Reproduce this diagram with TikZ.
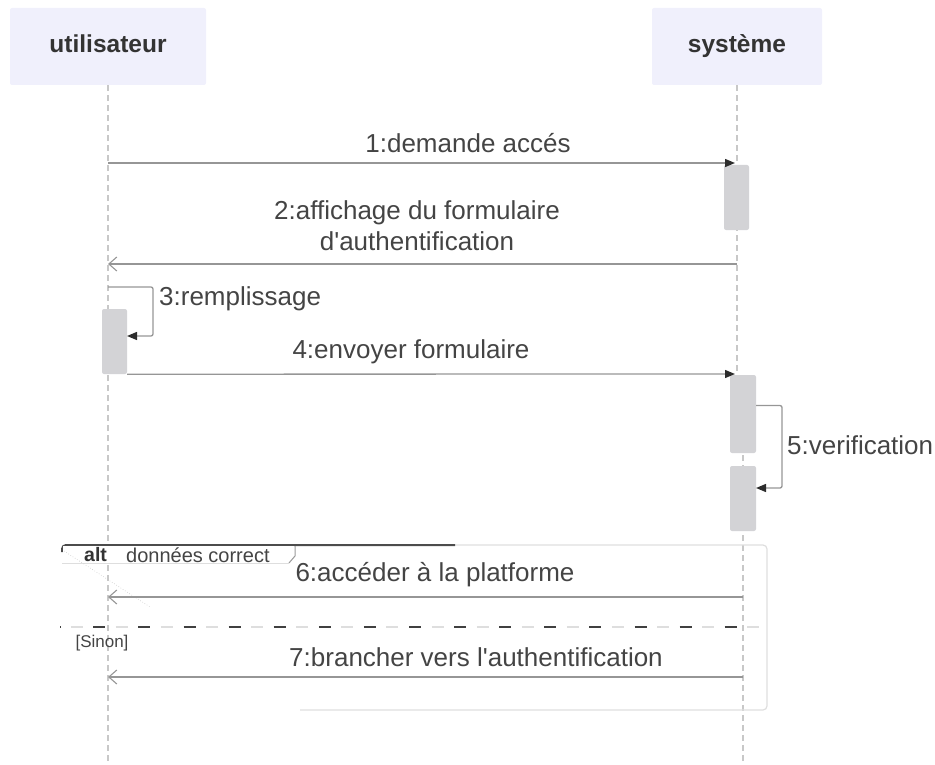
\documentclass[tikz,border=0pt]{standalone}
\usepackage{fontspec}
\setmainfont{Liberation Sans}
\usetikzlibrary{arrows.meta}
\definecolor{hdrfill}{RGB}{240,240,252}
\definecolor{lifegray}{RGB}{200,200,200}
\definecolor{actgray}{RGB}{211,211,214}
\definecolor{msggray}{RGB}{150,150,150}
\definecolor{txtgray}{RGB}{68,68,68}
\definecolor{framegray}{RGB}{222,222,222}
\definecolor{headdark}{RGB}{45,45,45}
\tikzset{
  hdr/.style={fill=hdrfill, rounded corners=2pt, minimum height=77pt, inner sep=0pt,
    text height=18pt, text depth=5pt,
    font=\fontsize{24.5}{28}\selectfont\bfseries, text=black!80},
  lifeline/.style={draw=lifegray, line width=1.6pt, dash pattern=on 6pt off 4pt},
  act/.style={fill=actgray, rounded corners=2pt, minimum width=25pt, inner sep=0pt},
  msglabel/.style={font=\fontsize{26}{31}\selectfont, text=txtgray, align=center, inner sep=0pt},
  sync/.style={draw=msggray, line width=1.3pt, -{Triangle[length=10pt,width=8pt,color=headdark]}},
  selfmsg/.style={draw=msggray, line width=1.3pt, rounded corners=2pt,
    -{Triangle[length=10pt,width=8pt,color=headdark]}},
  reply/.style={draw=msggray, line width=1.1pt, -{Straight Barb[length=8pt,width=14pt]}},
}
\begin{document}
\begin{tikzpicture}[x=1pt, y=-1pt]
\useasboundingbox (0,0) rectangle (935,765);

% participants
\node[hdr, minimum width=196pt] (hU) at (108,46.5) {utilisateur};
\node[hdr, minimum width=170pt] (hS) at (737,46.5) {système};

% lifelines
\coordinate (uEnd) at (108,765);
\coordinate (sMid) at (737,375);
\coordinate (sLow) at (743,375);
\coordinate (sEnd) at (743,765);
\draw[lifeline] (hU.south) -- (uEnd);
\draw[lifeline] (hS.south) -- (sMid);
\draw[lifeline] (sLow) -- (sEnd);

% activation bars
\node[act, minimum height=65pt] (a1) at (736.5,197.5) {};
\node[act, minimum height=65pt] (aU) at (114.5,341.5) {};
\node[act, minimum width=26pt, minimum height=78pt] (a2) at (743,414) {};
\node[act, minimum width=26pt, minimum height=65pt] (a3) at (743,498.5) {};

% 1
\coordinate (m1a) at (108,163);
\coordinate (m1b) at (735,163);
\draw[sync] (m1a) -- (m1b);
\node[msglabel] (t1) at (468,143) {1:demande accés};

% 2
\coordinate (m2a) at (737,264);
\coordinate (m2b) at (108,264);
\draw[reply] (m2a) -- (m2b);
\node[msglabel] (t2) at (417,226) {2:affichage du formulaire\\d\textquotesingle authentification};

% 3
\coordinate (m3a) at (108,287);
\coordinate (m3b) at (153,287);
\coordinate (m3c) at (153,336);
\coordinate (m3d) at (127,336);
\draw[selfmsg] (m3a) -- (m3b) -- (m3c) -- (m3d);
\node[msglabel, anchor=west] (t3) at (159,299) {3:remplissage};

% 4
\coordinate (m4b) at (735,374);
\draw[sync] (aU.south east) -- (m4b);
\node[msglabel] (t4) at (411,352) {4:envoyer formulaire};

% 5
\coordinate (m5a) at (756,405.5);
\coordinate (m5b) at (782,405.5);
\coordinate (m5c) at (782,488);
\coordinate (m5d) at (756,488);
\draw[selfmsg] (m5a) -- (m5b) -- (m5c) -- (m5d);
\node[msglabel, anchor=west] (t5) at (787,445) {5:verification};

% alt frame
\draw[framegray, line width=1.2pt, rounded corners=4pt] (455,545) -- (767,545) -- (767,710) -- (300,710);
\draw[black!70, line width=2pt, rounded corners=4pt] (62,552) -- (62,545) -- (455,545);
\fill[white] (63,546) rectangle (294,562);
\draw[gray!80, line width=1pt] (295,546) -- (295,556) -- (289,563);
\draw[framegray, line width=1pt] (62,563) -- (289,563);
\draw[gray!45, dotted, line width=0.6pt] (64,551) -- (150,607);
\node[anchor=west, inner sep=0pt, font=\fontsize{19.5}{22}\selectfont\bfseries, text=black!80] (altk) at (84,555) {alt};
\node[anchor=west, inner sep=0pt, font=\fontsize{20}{23}\selectfont, text=txtgray] (altg) at (126,555) {données correct};

% 6
\coordinate (m6a) at (743,597);
\coordinate (m6b) at (108,597);
\draw[reply] (m6a) -- (m6b);
\node[msglabel] (t6) at (435,575) {6:accéder à la platforme};

% separator
\coordinate (sepL) at (60,627);
\coordinate (sepR) at (767,627);
\draw[framegray, line width=1.5pt, dash pattern=on 12pt off 33.1pt, dash phase=34.35pt] (sepL) -- (sepR);
\draw[black!75, line width=1.5pt, dash pattern=on 12pt off 33.1pt, dash phase=11.8pt] (sepL) -- (743,627);
\node[inner sep=0pt, font=\fontsize{17}{20}\selectfont, text=txtgray] (els) at (102,643) {[Sinon]};

% 7
\coordinate (m7a) at (743,677);
\coordinate (m7b) at (108,677);
\draw[reply] (m7a) -- (m7b);
\node[msglabel] (t7) at (476,657) {7:brancher vers l\textquotesingle authentification};
\end{tikzpicture}
\end{document}
